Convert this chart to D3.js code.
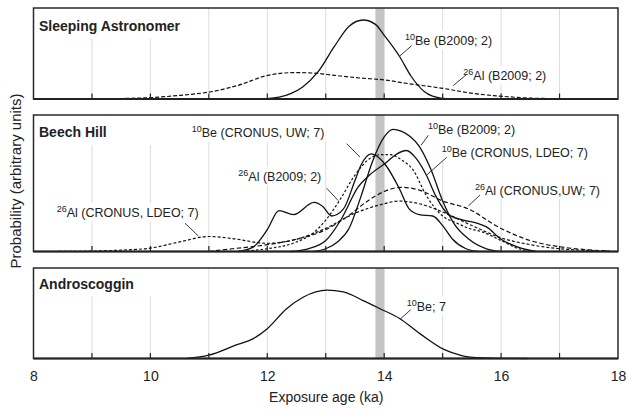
<!DOCTYPE html>
<html>
<head>
<meta charset="utf-8">
<title>Exposure age probability plots - D3.js</title>
<script src="https://d3js.org/d3.v7.min.js"></script>
<style>
    body { margin: 0; background: #fff; }
    svg text { font-family: "Liberation Sans", Arial, Helvetica, sans-serif; fill: #222; }
    .title { font-size: 14px; font-weight: bold; }
    .note { font-size: 12.5px; }
    .note .sup { font-size: 9px; }
    .axis text { font-size: 14px; }
    .axis-title { font-size: 14px; text-anchor: middle; }
</style>
</head>
<body>
<svg id="chart" width="628" height="411"></svg>
<script>
    // x axis: labelled ticks, small inside ticks, grey band (ka)
    const majorTicks = [8, 10, 12, 14, 16, 18];
    const minorTicks = [9, 10, 11, 12, 13, 14, 15, 16, 17];
    const bandAge = [13.85, 14.0];

    const panelNames = ["Sleeping Astronomer", "Beech Hill", "Androscoggin"];

    // [age ka, relative probability]
    // Sleeping Astronomer
    const saBe10 = [[11.9, 0], [12.2, 0.02], [12.4, 0.06], [12.6, 0.13], [12.87, 0.30], [13.15, 0.58],
        [13.4, 0.80], [13.64, 0.868], [13.85, 0.82], [14.0, 0.70], [14.26, 0.47], [14.46, 0.25],
        [14.69, 0.08], [14.97, 0.01], [15.2, 0]];
    const saAl26 = [[8.85, 0], [9.5, 0.005], [10.0, 0.015], [10.5, 0.04], [11.04, 0.08], [11.5, 0.15],
        [12.01, 0.26], [12.47, 0.29], [12.8, 0.285], [13.15, 0.26], [13.6, 0.23], [14.0, 0.21],
        [14.4, 0.17], [14.97, 0.12], [15.54, 0.06], [16.11, 0.025], [16.5, 0.01], [17.0, 0.004], [17.95, 0]];

    // Beech Hill
    const bhBe10B2009 = [[12.8, 0], [13.0, 0.02], [13.2, 0.07], [13.4, 0.17], [13.6, 0.40], [13.8, 0.66],
        [14.0, 0.84], [14.15, 0.895], [14.3, 0.88], [14.45, 0.84], [14.6, 0.77], [14.8, 0.60],
        [15.0, 0.37], [15.2, 0.20], [15.45, 0.09], [15.75, 0.02], [16.0, 0]];
    const bhBe10LDEO = [[12.4, 0], [12.7, 0.02], [13.0, 0.08], [13.27, 0.24], [13.55, 0.47], [13.75, 0.56],
        [14.03, 0.65], [14.2, 0.71], [14.38, 0.74], [14.55, 0.68], [14.72, 0.56], [14.89, 0.40],
        [15.1, 0.27], [15.35, 0.23], [15.57, 0.21], [15.75, 0.18], [16.0, 0.09], [16.3, 0.03], [16.6, 0]];
    const bhBe10UW = [[11.5, 0], [11.75, 0.03], [12.0, 0.16], [12.2, 0.30], [12.45, 0.27], [12.8, 0.36],
        [12.95, 0.33], [13.1, 0.26], [13.3, 0.31], [13.5, 0.52], [13.6, 0.63], [13.78, 0.715],
        [13.9, 0.69], [14.03, 0.63], [14.26, 0.46], [14.43, 0.31], [14.6, 0.27], [14.83, 0.26],
        [15.0, 0.19], [15.17, 0.09], [15.4, 0.02], [15.6, 0]];
    const bhAl26B2009 = [[11.5, 0], [12.0, 0.02], [12.5, 0.07], [12.8, 0.14], [13.0, 0.23], [13.23, 0.37],
        [13.5, 0.56], [13.75, 0.68], [13.95, 0.71], [14.1, 0.71], [14.3, 0.67], [14.49, 0.60],
        [14.72, 0.41], [15.0, 0.26], [15.23, 0.21], [15.45, 0.17], [15.7, 0.14], [16.0, 0.08],
        [16.3, 0.02], [16.6, 0]];
    const bhAl26UW = [[11.0, 0], [11.4, 0.02], [12.0, 0.05], [12.5, 0.09], [13.0, 0.16], [13.35, 0.25],
        [13.75, 0.38], [14.0, 0.44], [14.29, 0.47], [14.6, 0.45], [15.0, 0.37], [15.45, 0.31],
        [15.95, 0.18], [16.5, 0.08], [17.08, 0.03], [17.5, 0.012], [17.85, 0.004]];
    const bhAl26LDEO = [[8.35, 0], [9.0, 0.003], [9.5, 0.01], [10.0, 0.025], [10.5, 0.07], [11.0, 0.11],
        [11.4, 0.095], [12.0, 0.06], [12.5, 0.09], [13.0, 0.17], [13.5, 0.28], [14.0, 0.35],
        [14.25, 0.37], [14.6, 0.35], [15.0, 0.29], [15.5, 0.19], [16.0, 0.10], [16.5, 0.05],
        [17.0, 0.02], [17.5, 0.008], [17.85, 0.002]];

    // Androscoggin
    const anBe10 = [[10.62, 0], [11.0, 0.037], [11.47, 0.15], [11.76, 0.22], [12.0, 0.33], [12.33, 0.55],
        [12.62, 0.68], [13.02, 0.755], [13.3, 0.735], [13.64, 0.64], [13.93, 0.55], [14.27, 0.44],
        [14.61, 0.275], [15.02, 0.10], [15.3, 0.037], [15.47, 0.015], [16.0, 0.002], [16.45, 0]];

    // layout
    const x = d3.scaleLinear().domain([8, 18]).range([33.5, 618]);
    const panels = [
        { top: 8, bottom: 99, titleDy: 23 },
        { top: 115, bottom: 251.5, titleDy: 22 },
        { top: 268, bottom: 358.5, titleDy: 20.5 }
    ];
    const ys = panels.map(p => d3.scaleLinear().domain([0, 1]).range([p.bottom, p.top]));

    const curves = [
        { panel: 0, data: saAl26, dash: "4,2" },
        { panel: 0, data: saBe10, dash: null },
        { panel: 1, data: bhAl26LDEO, dash: "3,2" },
        { panel: 1, data: bhAl26UW, dash: "4.5,2.5" },
        { panel: 1, data: bhAl26B2009, dash: "2.5,2" },
        { panel: 1, data: bhBe10UW, dash: null },
        { panel: 1, data: bhBe10LDEO, dash: null },
        { panel: 1, data: bhBe10B2009, dash: null },
        { panel: 2, data: anBe10, dash: null }
    ];

    // labels: anchor and leader in (ka, relative value) of their panel
    const notes = [
        { panel: 0, sup: "10", txt: "Be (B2009; 2)", at: [14.356, 0.593], lead: [[14.47, 0.586], [14.253, 0.465]] },
        { panel: 0, sup: "26", txt: "Al (B2009; 2)", at: [15.353, 0.209], lead: [[15.41, 0.27], [15.18, 0.146]] },
        { panel: 1, sup: "10", txt: "Be (CRONUS, UW; 7)", at: [10.707, 0.837], lead: [[13.358, 0.79], [13.586, 0.692]], col: true },
        { panel: 1, sup: "10", txt: "Be (B2009; 2)", at: [14.749, 0.864], lead: [[14.754, 0.851], [14.63, 0.778]] },
        { panel: 1, sup: "10", txt: "Be (CRONUS, LDEO; 7)", at: [14.984, 0.695], lead: [[15.069, 0.69], [14.727, 0.56]], col: true },
        { panel: 1, sup: "26", txt: "Al (CRONUS,UW; 7)", at: [15.553, 0.414], lead: [[15.639, 0.414], [15.439, 0.333]], col: true },
        { panel: 1, sup: "26", txt: "Al (B2009; 2)", at: [11.504, 0.516], lead: [[13.016, 0.463], [13.215, 0.372]] },
        { panel: 1, sup: "26", txt: "Al (CRONUS, LDEO; 7)", at: [8.397, 0.251], lead: [[10.592, 0.207], [10.82, 0.114]] },
        { panel: 2, sup: "10", txt: "Be; 7", at: [14.385, 0.528], lead: [[14.453, 0.539], [14.27, 0.433]] }
    ];

    const svg = d3.select("#chart");
    const gGrid = svg.append("g");
    const gBg = svg.append("g");
    const gBand = svg.append("g");
    const gCurve = svg.append("g");
    const gFrame = svg.append("g");
    const gNote = svg.append("g");

    panels.forEach((p, i) => {
        // light vertical grid
        gGrid.selectAll(null)
            .data(minorTicks)
            .enter()
            .append("line")
            .attr("x1", d => x(d)).attr("x2", d => x(d))
            .attr("y1", p.top).attr("y2", p.bottom)
            .attr("stroke", "#dcdcdc")
            .attr("stroke-width", 1);

        // grey band
        gBand.append("rect")
            .attr("x", x(bandAge[0]))
            .attr("y", p.top)
            .attr("width", x(bandAge[1]) - x(bandAge[0]))
            .attr("height", p.bottom - p.top)
            .attr("fill", "#c4c4c4");

        // inside ticks
        gFrame.selectAll(null)
            .data(minorTicks)
            .enter()
            .append("line")
            .attr("x1", d => x(d)).attr("x2", d => x(d))
            .attr("y1", p.bottom).attr("y2", p.bottom - 5.5)
            .attr("stroke", "#222")
            .attr("stroke-width", 1.2);

        gFrame.append("rect")
            .attr("x", x(8)).attr("y", p.top)
            .attr("width", x(18) - x(8)).attr("height", p.bottom - p.top)
            .attr("fill", "none")
            .attr("stroke", "#2a2a2a")
            .attr("stroke-width", 1.5);
        gFrame.append("line")
            .attr("x1", x(8)).attr("x2", x(18))
            .attr("y1", p.bottom).attr("y2", p.bottom)
            .attr("stroke", "#222")
            .attr("stroke-width", 2);

        // panel title with white box behind it
        const t = gNote.append("text")
            .attr("class", "title")
            .attr("x", x(8) + 5.5)
            .attr("y", p.top + p.titleDy)
            .text(panelNames[i]);
        const tb = t.node().getBBox();
        gBg.append("rect")
            .attr("x", x(8) + 1)
            .attr("y", p.top + 1)
            .attr("width", Math.max(tb.x + tb.width + 4, x(10.6)) - x(8) - 1)
            .attr("height", p.titleDy + 7)
            .attr("fill", "#fff");
    });

    const line = d3.line().curve(d3.curveMonotoneX);

    gCurve.selectAll("path")
        .data(curves)
        .enter()
        .append("path")
        .attr("d", c => line.x(d => x(d[0])).y(d => ys[c.panel](d[1]))(c.data))
        .attr("fill", "none")
        .attr("stroke", "#111")
        .attr("stroke-width", c => c.dash ? 1.2 : 1.3)
        .attr("stroke-dasharray", c => c.dash);

    notes.forEach(n => {
        const y = ys[n.panel], p = panels[n.panel];
        const t = gNote.append("text")
            .attr("class", "note")
            .attr("x", x(n.at[0]))
            .attr("y", y(n.at[1]));
        t.append("tspan").attr("class", "sup").attr("dy", -5).text(n.sup);
        t.append("tspan").attr("dy", 5).text(n.txt);
        const b = t.node().getBBox();
        const top = n.col ? p.top + 1 : b.y - 1.5;
        gBg.append("rect")
            .attr("x", b.x - 2)
            .attr("y", top)
            .attr("width", b.width + 4)
            .attr("height", b.y + b.height + 1.5 - top)
            .attr("fill", "#fff");
        gNote.append("line")
            .attr("x1", x(n.lead[0][0])).attr("y1", y(n.lead[0][1]))
            .attr("x2", x(n.lead[1][0])).attr("y2", y(n.lead[1][1]))
            .attr("stroke", "#222")
            .attr("stroke-width", 0.9);
    });

    // x axis labels under the last panel
    svg.append("g")
        .attr("class", "axis")
        .attr("transform", `translate(0,${panels[2].bottom})`)
        .style("color", "#222")
        .call(d3.axisBottom(x).tickValues(majorTicks).tickSize(0).tickPadding(12.5).tickFormat(d3.format("d")))
        .call(g => g.select(".domain").remove());

    svg.append("text")
        .attr("class", "axis-title")
        .attr("x", x(13) + 0.5)
        .attr("y", 402)
        .text("Exposure age (ka)");

    svg.append("text")
        .attr("class", "axis-title")
        .attr("transform", "translate(21,181) rotate(-90)")
        .style("font-size", "15px")
        .text("Probability (arbitrary units)");
</script>
</body>
</html>
